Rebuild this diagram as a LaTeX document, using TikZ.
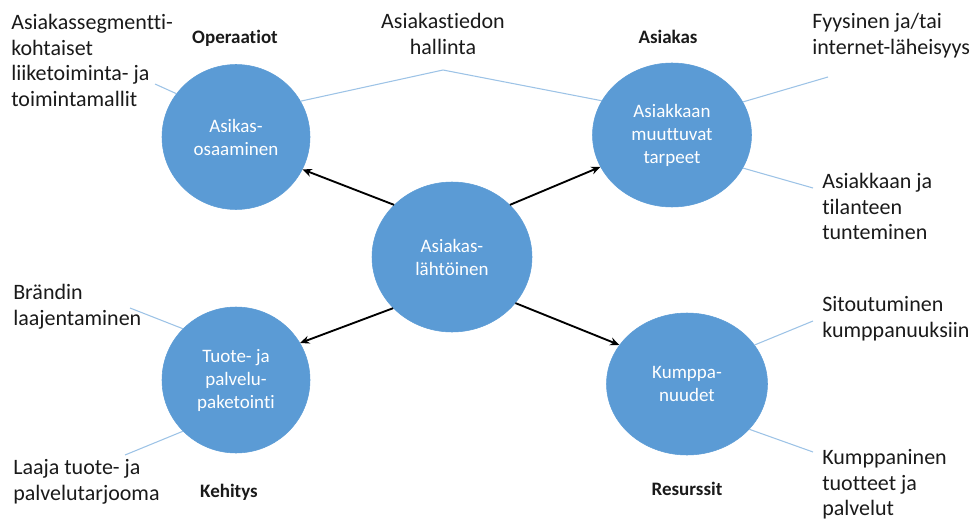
\documentclass[tikz,border=0pt]{standalone}
\usepackage{fontspec}
\setmainfont{Carlito}[Ligatures=NoCommon]
\usetikzlibrary{shapes.geometric,arrows.meta}
\definecolor{bubble}{HTML}{5B9BD5}
\definecolor{thinline}{HTML}{9DC3E6}
\definecolor{ink}{HTML}{1A1A1A}
% invisible rule that fixes the height of the first line of a side note
\newcommand\labstrut{\rule{0pt}{14pt}}

\begin{document}
\begin{tikzpicture}[x=0.75pt,y=-0.75pt,
  bubble/.style={ellipse, fill=bubble, draw=bubble, inner sep=0pt, text=white,
    align=center, font=\fontsize{14.25}{17.25}\selectfont},
  side/.style={anchor=north west, yshift=14pt, inner sep=0pt, align=left, text=ink,
    font=\fontsize{16.5}{19.1}\selectfont, execute at begin node=\labstrut},
  sidemid/.style={side, anchor=north, align=center},
  head/.style={anchor=base, inner sep=0pt, text=ink, font=\fontsize{14.25}{17}\selectfont\bfseries},
  link/.style={draw=thinline, line width=0.8pt},
  flow/.style={draw=black, line width=1.4pt, -{Stealth[length=7pt,width=6pt]}}
]
\useasboundingbox (0,0) rectangle (971,524);

% the five bubbles
\node[bubble, minimum width=111pt, minimum height=108.75pt] (tl) at (236,137) {Asikas-\\osaaminen};
\node[bubble, minimum width=120pt, minimum height=112.5pt] (c) at (452,257) {Asiakas-\\lähtöinen};
\node[bubble, minimum width=119.25pt, minimum height=108pt] (tr) at (672,135) {Asiakkaan\\muuttuvat\\tarpeet};
\node[bubble, minimum width=111pt, minimum height=109.5pt] (bl) at (236,380) {Tuote- ja\\palvelu-\\paketointi};
\node[bubble, minimum width=120.75pt, minimum height=106.5pt] (br) at (687,384) {Kumppa-\\nuudet};

% headings
\node[head] (hop) at (235,44) {Operaatiot};
\node[head] (has) at (668,44) {Asiakas};
\node[head] (hke) at (229,497) {Kehitys};
\node[head] (hre) at (687,495) {Resurssit};

% side notes
\node[side] (ntl) at (11,33) {Asiakassegmentti-\\kohtaiset\\liiketoiminta- ja\\toimintamallit};
\node[sidemid] (ntop) at (443,32) {Asiakastiedon\\hallinta};
\node[side] (ntr) at (812,32) {Fyysinen ja/tai\\internet-läheisyys};
\node[side] (ntr2) at (822,192) {Asiakkaan ja\\tilanteen\\tunteminen};
\node[side] (nbl) at (13,303) {Brändin\\laajentaminen};
\node[side] (nbl2) at (13,478) {Laaja tuote- ja\\palvelutarjooma};
\node[side] (nbr) at (822,315) {Sitoutuminen\\kumppanuuksiin};
\node[side] (nbr2) at (822,468) {Kumppaninen\\tuotteet ja\\palvelut};

% free ends of the thin connectors
\coordinate (ftl) at (155,84);
\coordinate (peak) at (443,70);
\coordinate (ftr) at (828,77);
\coordinate (ftr2) at (813,188);
\coordinate (fbr) at (813,321);
\coordinate (fbr2) at (813,452);
\coordinate (fbl) at (130,308);
\coordinate (fbl2) at (125,455);

\draw[link] (ftl) -- (tl.144);
\draw[link] (tl.29) -- (peak) -- (tr.154);
\draw[link] (tr.25) -- (ftr);
\draw[link] (tr.-25) -- (ftr2);
\draw[link] (br.30) -- (fbr);
\draw[link] (br.-36) -- (fbr2);
\draw[link] (bl.136) -- (fbl);
\draw[link] (bl.224) -- (fbl2);

% arrows from the centre
\draw[flow] (c.138) -- (tl.334);
\draw[flow] (c.42) -- (tr.204);
\draw[flow] (c.221) -- (bl.30);
\draw[flow] (c.324) -- (br.150);
\end{tikzpicture}
\end{document}
